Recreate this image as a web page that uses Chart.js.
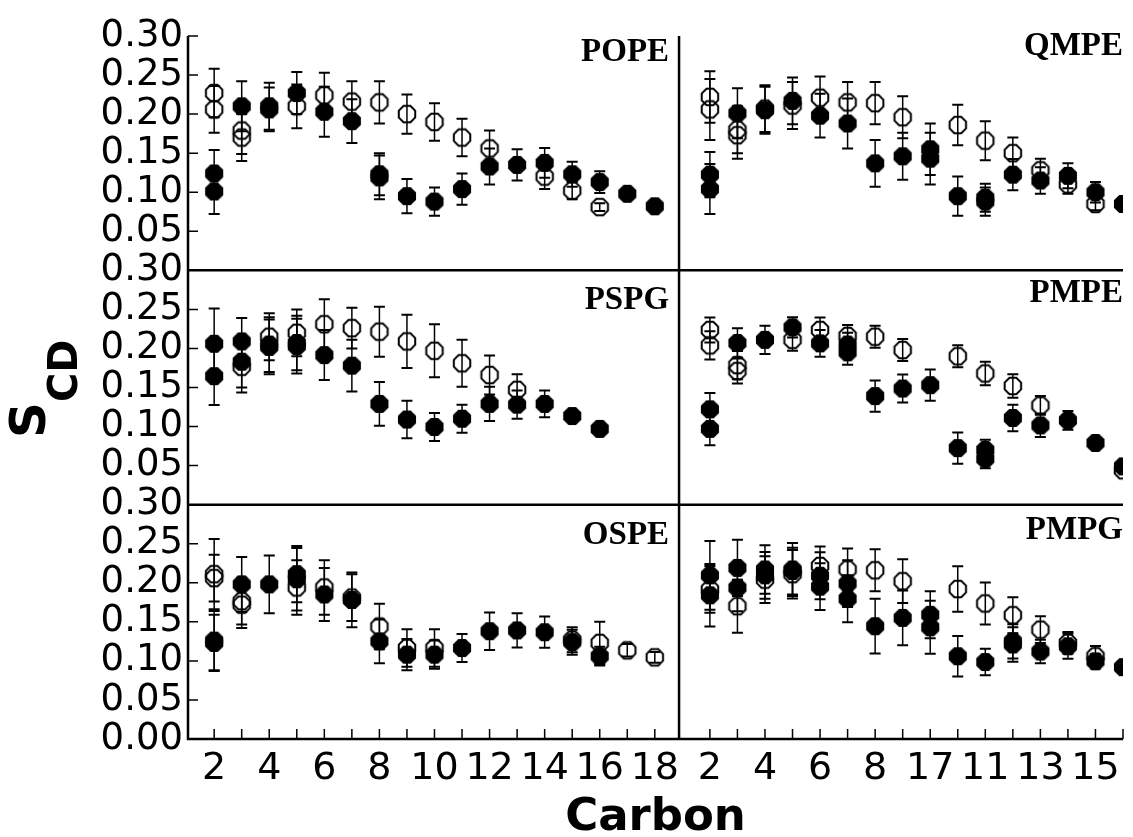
<!DOCTYPE html>
<html>
<head>
<meta charset="utf-8">
<script src="https://cdn.jsdelivr.net/npm/chart.js@4.4.0/dist/chart.umd.min.js"></script>
<style>
  html, body { margin: 0; padding: 0; background: #fff; }
  #wrap { position: relative; width: 1133px; height: 837px; }
</style>
</head>
<body>
<div id="wrap"><canvas id="scd"></canvas></div>
<script>
'use strict';

// each point: [carbon, S_CD, error]
var popeFilled = [[2,0.124,0.03],[2,0.101,0.029],[3,0.21,0.032],[4,0.21,0.03],[4,0.206,0.028],[5,0.227,0.027],[6,0.203,0.032],[7,0.191,0.028],[8,0.123,0.027],[8,0.119,0.028],[9,0.095,0.022],[10,0.088,0.018],[11,0.104,0.02],[12,0.133,0.023],[13,0.135,0.02],[14,0.1375,0.019],[15,0.123,0.016],[16,0.113,0.014],[17,0.098,0],[18,0.082,0]];
var popeOpen = [[2,0.227,0.031],[2,0.206,0.03],[3,0.179,0.03],[3,0.17,0.03],[5,0.21,0.028],[6,0.224,0.029],[7,0.216,0.026],[8,0.215,0.027],[9,0.2,0.025],[10,0.19,0.024],[11,0.17,0.024],[12,0.156,0.023],[14,0.12,0.016],[15,0.102,0.011],[16,0.081,0.005]];

var qmpeFilled = [[2,0.1225,0.029],[2,0.104,0.032],[3,0.201,0.032],[4,0.205,0.03],[5,0.217,0.03],[6,0.198,0.028],[7,0.188,0.032],[8,0.137,0.03],[9,0.146,0.03],[10,0.155,0.033],[10,0.143,0.033],[11,0.095,0.025],[12,0.093,0.018],[12,0.088,0.018],[13,0.1225,0.02],[14,0.115,0.017],[15,0.121,0.016],[16,0.1,0.013],[17,0.085,0]];
var qmpeOpen = [[2,0.222,0.033],[2,0.206,0.039],[3,0.18,0.03],[3,0.173,0.03],[4,0.207,0.03],[5,0.211,0.03],[6,0.221,0.027],[7,0.215,0.026],[8,0.214,0.027],[9,0.196,0.027],[11,0.186,0.026],[12,0.166,0.025],[13,0.15,0.02],[14,0.128,0.015],[15,0.11,0.012],[16,0.085,0.008]];

var pspgFilled = [[2,0.206,0.045],[2,0.1645,0.037],[3,0.209,0.03],[3,0.183,0.033],[4,0.202,0.035],[4,0.205,0.035],[5,0.207,0.035],[5,0.203,0.035],[6,0.1915,0.032],[7,0.178,0.033],[8,0.129,0.028],[9,0.109,0.024],[10,0.0995,0.018],[11,0.11,0.018],[12,0.129,0.022],[13,0.128,0.018],[14,0.129,0.017],[15,0.1135,0.006],[16,0.097,0]];
var pspgOpen = [[3,0.1765,0.033],[4,0.215,0.03],[5,0.22,0.03],[6,0.231,0.032],[7,0.226,0.026],[8,0.2215,0.032],[9,0.209,0.034],[10,0.197,0.034],[11,0.181,0.03],[12,0.166,0.025],[13,0.147,0.02]];

var pmpeFilled = [[2,0.122,0.021],[2,0.097,0.021],[3,0.207,0.019],[4,0.211,0.018],[5,0.227,0.013],[6,0.2065,0.017],[7,0.205,0.015],[7,0.195,0.016],[8,0.139,0.02],[9,0.1487,0.018],[10,0.153,0.02],[11,0.0724,0.02],[12,0.07,0.013],[12,0.0587,0.012],[13,0.111,0.017],[14,0.1015,0.015],[15,0.108,0.012],[16,0.079,0],[17,0.049,0]];
var pmpeOpen = [[2,0.2236,0.016],[2,0.204,0.018],[3,0.1787,0.018],[3,0.171,0.016],[5,0.211,0.014],[6,0.2236,0.016],[7,0.216,0.014],[8,0.215,0.014],[9,0.198,0.014],[11,0.19,0.014],[12,0.168,0.015],[13,0.152,0.015],[14,0.127,0.012],[17,0.044,0]];

var ospeFilled = [[2,0.126,0.038],[2,0.123,0.036],[3,0.198,0.035],[4,0.198,0.037],[5,0.211,0.036],[5,0.2045,0.04],[6,0.185,0.034],[7,0.178,0.035],[8,0.125,0.028],[9,0.108,0.02],[10,0.108,0.018],[11,0.1165,0.018],[12,0.138,0.024],[13,0.139,0.022],[14,0.1367,0.02],[15,0.124,0.016],[16,0.106,0.012]];
var ospeOpen = [[2,0.211,0.045],[2,0.206,0.03],[3,0.1765,0.03],[3,0.172,0.03],[5,0.194,0.035],[6,0.194,0.035],[7,0.181,0.03],[8,0.144,0.029],[9,0.1165,0.024],[10,0.1165,0.024],[15,0.127,0.016],[16,0.123,0.027],[17,0.1135,0.008],[18,0.1045,0.007]];

var pmpgFilled = [[2,0.2095,0.044],[2,0.184,0.04],[3,0.219,0.036],[3,0.1937,0.03],[4,0.217,0.031],[4,0.2095,0.03],[5,0.217,0.034],[5,0.215,0.03],[6,0.209,0.03],[6,0.195,0.03],[7,0.199,0.03],[7,0.1795,0.03],[8,0.1444,0.035],[9,0.155,0.035],[10,0.159,0.03],[10,0.143,0.034],[11,0.106,0.026],[12,0.0985,0.017],[13,0.125,0.022],[13,0.121,0.022],[14,0.112,0.015],[15,0.1187,0.016],[16,0.0994,0.009],[17,0.092,0]];
var pmpgOpen = [[2,0.1915,0.03],[3,0.17,0.034],[4,0.204,0.03],[5,0.211,0.031],[6,0.2215,0.025],[7,0.217,0.027],[8,0.216,0.027],[9,0.202,0.028],[11,0.192,0.029],[12,0.1735,0.027],[13,0.1585,0.023],[14,0.14,0.017],[15,0.123,0.014],[16,0.106,0.013]];

var panels = ['POPE', 'QMPE', 'PSPG', 'PMPE', 'OSPE', 'PMPG'];
var filledSets = [popeFilled, qmpeFilled, pspgFilled, pmpeFilled, ospeFilled, pmpgFilled];
var openSets = [popeOpen, qmpeOpen, pspgOpen, pmpeOpen, ospeOpen, pmpgOpen];

// carbons on the bottom axis and their labels
var carbonsLeft = [2,3,4,5,6,7,8,9,10,11,12,13,14,15,16,17,18];
var carbonsRight = [2,3,4,5,6,7,8,9,10,11,12,13,14,15,16,17];
var leftTicks = [2,4,6,8,10,12,14,16,18];
var rightTicks = [2,4,6,8,10,12,14,16];
var rightTickLabels = ['2','4','6','8','17','11','13','15'];

var ROW = 0.3;      // each panel spans 0 - 0.30
var SHIFT = 18;     // right column carbons are shifted by this
var SPLIT = 18.88;  // border between the two columns

function octagon(filled) {
    var c = document.createElement('canvas');
    c.width = 22; c.height = 22;
    var g = c.getContext('2d');
    var r = filled ? 9.8 : 8.9;
    g.beginPath();
    for (var k = 0; k < 8; k++) {
        var a = Math.PI / 8 + k * Math.PI / 4;
        var px = 11 + r * Math.cos(a), py = 11 + r * Math.sin(a);
        if (k) g.lineTo(px, py); else g.moveTo(px, py);
    }
    g.closePath();
    if (filled) { g.fillStyle = '#000'; g.fill(); }
    else { g.lineWidth = 2; g.strokeStyle = '#000'; g.stroke(); }
    return c;
}
var filledMark = octagon(true);
var openMark = octagon(false);

function toPoints(list, p) {
    var col = p % 2, row = Math.floor(p / 2);
    return list.map(function (d) {
        return { x: d[0] + col * SHIFT, y: d[1] + (2 - row) * ROW, err: d[2] };
    });
}

var datasets = [];
panels.forEach(function (name, p) {
    datasets.push({ label: name + ' open', data: toPoints(openSets[p], p), pointStyle: openMark, pointRadius: 9, showLine: false });
    datasets.push({ label: name + ' filled', data: toPoints(filledSets[p], p), pointStyle: filledMark, pointRadius: 9, showLine: false });
});

var frame = {
    id: 'frame',
    beforeDatasetsDraw: function (chart) {
        var ctx = chart.ctx, a = chart.chartArea, x = chart.scales.x, y = chart.scales.y;
        ctx.save();
        ctx.strokeStyle = '#000';
        ctx.lineWidth = 2.5;
        ctx.beginPath();
        ctx.moveTo(a.left, a.top);
        ctx.lineTo(a.left, a.bottom);
        ctx.lineTo(a.right, a.bottom);
        [ROW, 2 * ROW].forEach(function (v) {
            var py = y.getPixelForValue(v);
            ctx.moveTo(a.left, py);
            ctx.lineTo(a.right, py);
        });
        var sx = x.getPixelForValue(SPLIT);
        ctx.moveTo(sx, a.top);
        ctx.lineTo(sx, a.bottom);
        ctx.stroke();

        ctx.lineWidth = 1.5;
        ctx.beginPath();
        y.ticks.forEach(function (t) {
            var py = y.getPixelForValue(t.value);
            ctx.moveTo(a.left, py);
            ctx.lineTo(a.left + 10, py);
        });
        carbonsLeft.forEach(function (c) {
            var px = x.getPixelForValue(c);
            ctx.moveTo(px, a.bottom);
            ctx.lineTo(px, a.bottom - 10);
        });
        carbonsRight.forEach(function (c) {
            var px = x.getPixelForValue(c + SHIFT);
            ctx.moveTo(px, a.bottom);
            ctx.lineTo(px, a.bottom - 10);
        });
        ctx.stroke();
        ctx.restore();
    }
};

var errorBars = {
    id: 'errorBars',
    beforeDatasetsDraw: function (chart) {
        var ctx = chart.ctx, y = chart.scales.y;
        ctx.save();
        ctx.strokeStyle = '#000';
        chart.data.datasets.forEach(function (ds, i) {
            var meta = chart.getDatasetMeta(i);
            ds.data.forEach(function (d, j) {
                if (!d.err) return;
                var px = meta.data[j].x;
                var top = y.getPixelForValue(d.y + d.err);
                var bot = y.getPixelForValue(d.y - d.err);
                ctx.lineWidth = 1.5;
                ctx.beginPath();
                ctx.moveTo(px, top);
                ctx.lineTo(px, bot);
                ctx.stroke();
                ctx.lineWidth = 2;
                ctx.beginPath();
                ctx.moveTo(px - 5.5, top); ctx.lineTo(px + 5.5, top);
                ctx.moveTo(px - 5.5, bot); ctx.lineTo(px + 5.5, bot);
                ctx.stroke();
            });
        });
        ctx.restore();
    }
};

// panel names, baseline offset (px) from the top of each panel
var nameOffsets = [24.5, 19, 38.5, 32, 39, 34];
var labels = {
    id: 'labels',
    afterDraw: function (chart) {
        var ctx = chart.ctx, a = chart.chartArea, y = chart.scales.y, x = chart.scales.x;
        ctx.save();
        ctx.fillStyle = '#000';
        ctx.font = 'bold 33px "Liberation Serif"';
        ctx.textAlign = 'right';
        ctx.textBaseline = 'alphabetic';
        panels.forEach(function (name, p) {
            var col = p % 2, row = Math.floor(p / 2);
            var topPx = y.getPixelForValue((3 - row) * ROW);
            var right = col ? a.right : x.getPixelForValue(SPLIT) - 10;
            ctx.fillText(name, right, topPx + nameOffsets[p]);
        });

        // S_CD
        ctx.translate(45, 438);
        ctx.rotate(-Math.PI / 2);
        ctx.textAlign = 'left';
        ctx.font = 'bold 50px "DejaVu Sans"';
        ctx.fillText('S', 0, 0);
        var w = ctx.measureText('S').width;
        ctx.font = 'bold 40px "DejaVu Sans"';
        ctx.fillText('CD', w, 32);
        ctx.restore();
    }
};

var ctx = document.getElementById('scd').getContext('2d');
var chart = new Chart(ctx, {
    type: 'scatter',
    data: { datasets: datasets },
    options: {
        responsive: true,
        maintainAspectRatio: false,
        animation: false,
        layout: { padding: { top: 36, right: 10, left: 0, bottom: 0 } },
        plugins: { legend: { display: false }, tooltip: { enabled: false } },
        scales: {
            x: {
                type: 'linear',
                min: 1.05,
                max: 35,
                border: { display: false },
                grid: { display: false, drawTicks: false },
                afterBuildTicks: function (s) {
                    s.ticks = leftTicks.concat(rightTicks.map(function (c) { return c + SHIFT; }))
                        .map(function (v) { return { value: v }; });
                },
                afterFit: function (s) { s.height = 98; },
                ticks: {
                    autoSkip: false,
                    maxRotation: 0,
                    padding: 7,
                    color: '#000',
                    font: { family: 'DejaVu Sans', size: 38 },
                    callback: function (v) {
                        if (v < SPLIT) return String(v);
                        return rightTickLabels[rightTicks.indexOf(v - SHIFT)];
                    }
                },
                title: {
                    display: true,
                    text: 'Carbon',
                    color: '#000',
                    font: { family: 'DejaVu Sans', size: 45, weight: 'bold', lineHeight: 0.84 },
                    padding: { top: 0, bottom: 0 }
                }
            },
            y: {
                min: 0,
                max: 3 * ROW,
                border: { display: false },
                grid: { display: false, drawTicks: false },
                afterBuildTicks: function (s) {
                    var t = [];
                    for (var k = 0; k <= 18; k++) t.push({ value: k * 0.05 });
                    s.ticks = t;
                },
                afterFit: function (s) { s.width = 188; },
                ticks: {
                    autoSkip: false,
                    padding: 5,
                    color: '#000',
                    font: { family: 'DejaVu Sans', size: 37 },
                    callback: function (v) {
                        if (v < 1e-9) return '0.00';
                        var r = v - ROW * Math.floor((v + 1e-9) / ROW);
                        if (r < 1e-6) return '0.30';
                        return r.toFixed(2);
                    }
                }
            }
        }
    },
    plugins: [frame, errorBars, labels]
});
</script>
</body>
</html>
